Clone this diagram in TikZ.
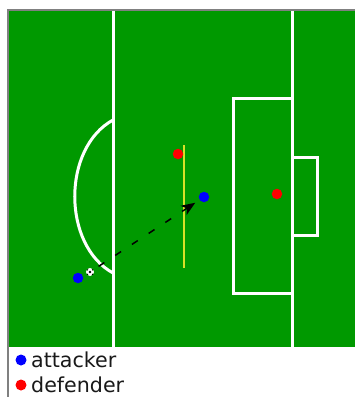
\documentclass[tikz,border=0pt]{standalone}
\usepackage{fontspec}
\setmainfont{DejaVu Sans}
\usetikzlibrary{arrows.meta}
\definecolor{pitch}{RGB}{0,153,0}
\definecolor{frameg}{RGB}{128,128,128}
\definecolor{legtext}{RGB}{25,25,25}
\tikzset{
  px/.style={x=1pt,y=-1pt},
  pline/.style={draw=white,line width=3pt},
  player/.style={circle,minimum size=10.5pt,inner sep=0pt,draw=none},
  atk/.style={player,fill=blue},
  def/.style={player,fill=red},
  legtxt/.style={anchor=base west,inner sep=0pt,font=\fontsize{20.6pt}{22pt}\selectfont,text=legtext},
}
\begin{document}
\begin{tikzpicture}[px]
\useasboundingbox (0,0) rectangle (355,397);
\fill[white] (0,0) rectangle (355,397);
\fill[frameg] (7,9) rectangle (355,11);
\fill[frameg] (7,9) rectangle (8.6,397);
\fill[pitch] (8.6,11) rectangle (355,347);
% pitch lines
\draw[pline] (113.5,11) -- (113.5,347);
\draw[pline] (292,11) -- (292,347);
\draw[pline] (292,98.5) -- (233,98.5) -- (233,293) -- (292,293);
\draw[pline] (292,157) -- (317,157) -- (317,235) -- (292,235);
\draw[pline,line cap=round] (113,120) .. controls (62,148) and (62,245) .. (113,273);
\draw[draw={rgb,255:red,215;green,225;blue,40},line width=2pt] (184,145) -- (184,268);
% ball
\node[circle,fill=white,draw=none,minimum size=8pt,inner sep=0pt] (ball) at (90,272) {};
\fill[black] (90,272) circle (1.3);
\fill[black] (87.5,269.8) circle (0.8);
\fill[black] (92.6,269.8) circle (0.8);
\fill[black] (87.5,274.4) circle (0.8);
\fill[black] (92.6,274.4) circle (0.8);
% players
\node[atk] (a1) at (78,278) {};
\node[atk] (a2) at (204,197) {};
\node[def] (d1) at (178,154) {};
\node[def] (d2) at (277,194) {};
% pass
\draw[-{Stealth[length=14pt,width=11pt,inset=4pt]},line width=1.5pt,dash pattern=on 7pt off 13pt,shorten <=6pt,shorten >=5pt] (ball) -- (a2);
% legend
\node[atk,minimum size=11pt] (la) at (21,360) {};
\node[def,minimum size=11pt] (ld) at (21,385) {};
\node[legtxt] (ta) at (31,367) {attacker};
\node[legtxt] (td) at (31,392) {defender};
\end{tikzpicture}
\end{document}
